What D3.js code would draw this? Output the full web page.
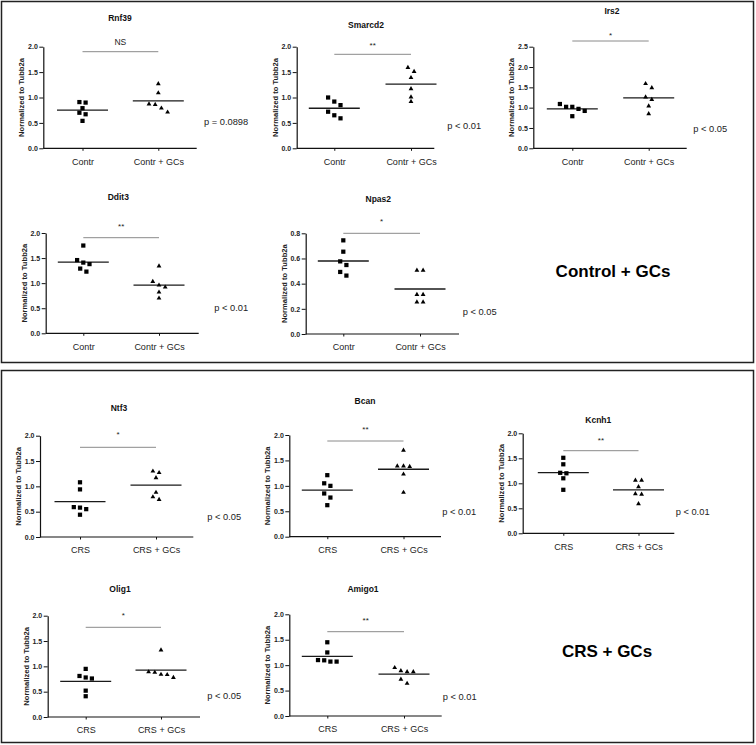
<!DOCTYPE html>
<html><head><meta charset="utf-8">
<script src="https://cdn.jsdelivr.net/npm/d3@7"></script>
<style>
body{margin:0;background:#fff;}
svg{display:block;font-family:"Liberation Sans",Arial,sans-serif;}
</style></head>
<body><svg id="chart" width="756" height="745"></svg>
<script>
// ---------- DATA ----------
const genes = ["Rnf39","Smarcd2","Irs2","Ddit3","Npas2","Ntf3","Bcan","Kcnh1","Olig1","Amigo1"];
const topGroups = ["Contr","Contr + GCs"];
const bottomGroups = ["CRS","CRS + GCs"];
const ctrlValues = [
  [0.90,0.91,0.79,0.67,0.70,0.54],
  [0.92,1.00,0.85,0.72,0.65,0.59],
  [1.09,1.02,1.02,0.97,0.92,0.79],
  [1.75,1.46,1.41,1.38,1.29,1.23],
  [0.744,0.654,0.577,0.548,0.493,0.464],
  [1.08,0.94,0.58,0.55,0.59,0.44],
  [1.21,1.05,1.00,0.85,0.77,0.62],
  [1.51,1.38,1.20,1.21,1.10,0.87],
  [0.95,0.78,0.76,0.81,0.52,0.41],
  [1.45,1.25,1.095,1.07,1.07,1.10]
];
const gcValues = [
  [1.27,1.09,0.87,0.86,0.79,0.71],
  [1.59,1.51,1.39,1.17,1.01,0.92],
  [1.59,1.49,1.26,1.20,1.04,0.85],
  [1.34,1.03,0.96,0.92,0.82,0.70],
  [0.506,0.506,0.313,0.313,0.254,0.254],
  [1.30,1.27,1.17,0.88,0.79,0.74],
  [1.70,1.39,1.38,1.39,1.23,0.87],
  [1.06,1.06,0.93,0.79,0.78,0.59],
  [1.32,0.89,0.84,0.78,0.835,0.88],
  [0.95,0.87,0.87,0.89,0.72,0.64]
];
const yMaxes = [2,2,2.5,2,0.8,2,2,2,2,2];
const yTickSteps = [0.5,0.5,0.5,0.5,0.2,0.5,0.5,0.5,0.5,0.5];
const sigLabels = ["NS","**","*","**","*","*","**","**","*","**"];
const pLabels = ["p = 0.0898","p < 0.01","p < 0.05","p < 0.01","p < 0.05","p < 0.05","p < 0.01","p < 0.01","p < 0.05","p < 0.01"];
const yAxisTitle = "Normalized to Tubb2a";
const sectionLabels = ["Control + GCs","CRS + GCs"];

// ---------- LAYOUT ----------
const layout = [
 {left:43.3,right:196.7,c1:82.5,c2:158.3,top:46.7,bottom:148.3,tx:120,ty:18,sigY:51.7,sigTy:42,px:204,py:122.3},
 {left:296.7,right:434.3,c1:334.3,c2:411,top:46.7,bottom:148.3,tx:366,ty:25,sigY:54.3,sigTy:45,px:447.3,py:125.7},
 {left:533.3,right:686.7,c1:572.3,c2:648.7,top:46.7,bottom:148.3,tx:612,ty:11,sigY:41,sigTy:35,px:693.3,py:129},
 {left:45.7,right:198.7,c1:83.3,c2:159,top:233,bottom:333.3,tx:118.3,ty:196.7,sigY:237.7,sigTy:226,px:214.3,py:308.3},
 {left:305.7,right:459,c1:343.3,c2:420,top:233.3,bottom:334,tx:378.3,ty:199,sigY:233.3,sigTy:221.7,px:462.7,py:311.7},
 {left:40,right:193.3,c1:80,c2:156,top:435.7,bottom:537,tx:119,ty:407.7,sigY:447.3,sigTy:434.3,px:207.3,py:516.7},
 {left:289.3,right:441,c1:327.3,c2:403.5,top:435,bottom:536.7,tx:365,ty:401,sigY:441,sigTy:429.3,px:442.3,py:511.7},
 {left:522.7,right:674.3,c1:563.3,c2:638.5,top:433.3,bottom:533.3,tx:598.3,ty:420,sigY:450.7,sigTy:440,px:675.7,py:511.7},
 {left:47.7,right:200,c1:85.7,c2:161,top:615.7,bottom:717,tx:120,ty:589,sigY:627.3,sigTy:615.3,px:207.3,py:696},
 {left:289.3,right:441.7,c1:327.3,c2:404,top:614.3,bottom:716,tx:363,ty:589,sigY:631.7,sigTy:620.7,px:442.7,py:697.3}
];
const sectionPos = [{x:613,y:271},{x:607,y:651}];

const svg = d3.select("#chart");
svg.append("rect").attr("width",756).attr("height",745).attr("fill","#fff");
svg.append("rect").attr("x",1.5).attr("y",1.5).attr("width",752).attr("height",361).attr("fill","none").attr("stroke","#222").attr("stroke-width",1.5);
svg.append("rect").attr("x",1.5).attr("y",370.5).attr("width",752).attr("height",372).attr("fill","none").attr("stroke","#222").attr("stroke-width",1.5);

const sqSym = d3.symbol().type(d3.symbolSquare).size(18);
const triSym = d3.symbol().type(d3.symbolTriangle).size(10);

function dodge(values, y, cx, step, thresh){
  const pts = values.map(v=>({v, py:y(v)})).sort((a,b)=>a.py-b.py);
  const rows=[]; let cur=null;
  pts.forEach(p=>{
    if(cur && p.py - cur[cur.length-1].py < thresh) cur.push(p);
    else { cur=[p]; rows.push(cur); }
  });
  rows.forEach(r=>r.forEach((p,i)=>{ p.px = cx + (i-(r.length-1)/2)*step; }));
  return pts;
}

genes.forEach((gene,i)=>{
  const L = layout[i];
  const groups = i<5 ? topGroups : bottomGroups;
  const g = svg.append("g");
  const y = d3.scaleLinear().domain([0,yMaxes[i]]).range([L.bottom,L.top]);
  const x = d3.scalePoint().domain(groups).range([L.c1,L.c2]);

  // y axis
  const ticks = d3.range(0, yMaxes[i]+1e-9, yTickSteps[i]);
  const ya = g.append("g").attr("transform",`translate(${L.left},0)`)
    .call(d3.axisLeft(y).tickValues(ticks).tickFormat(d3.format(".1f")).tickSize(4).tickSizeOuter(0).tickPadding(1.5));
  ya.select(".domain").attr("stroke","#111").attr("stroke-width",1.2);
  ya.selectAll(".tick line").attr("stroke","#111").attr("stroke-width",1);
  ya.selectAll("text").attr("font-size",7).attr("font-weight","bold").attr("fill","#222");

  // x axis
  g.append("line").attr("x1",L.left).attr("x2",L.right).attr("y1",L.bottom).attr("y2",L.bottom)
    .attr("stroke","#111").attr("stroke-width",1.2);
  const xa = g.append("g").attr("transform",`translate(0,${L.bottom})`)
    .call(d3.axisBottom(x).tickSize(2.5).tickPadding(7.5));
  xa.select(".domain").remove();
  xa.selectAll(".tick line").attr("stroke","#111");
  xa.selectAll("text").attr("font-size",9).attr("fill","#222");

  // y axis title
  g.append("text").attr("transform",`translate(${L.left-21.5},${(L.top+L.bottom)/2}) rotate(-90)`)
    .attr("text-anchor","middle").attr("dominant-baseline","central")
    .attr("font-size",7.6).attr("font-weight","bold").attr("fill","#222").text(yAxisTitle);

  // title
  g.append("text").attr("x",L.tx).attr("y",L.ty).attr("text-anchor","middle").attr("dominant-baseline","central")
    .attr("font-size",8.5).attr("font-weight","bold").attr("fill","#111").text(gene);

  // significance
  g.append("line").attr("x1",x(groups[0])).attr("x2",x(groups[1])).attr("y1",L.sigY).attr("y2",L.sigY)
    .attr("stroke","#8a8a8a").attr("stroke-width",1);
  g.append("text").attr("x",(x(groups[0])+x(groups[1]))/2).attr("y",L.sigTy).attr("text-anchor","middle")
    .attr("dominant-baseline","central").attr("font-size",sigLabels[i]==="NS"?8.5:8).attr("fill","#222").text(sigLabels[i]);

  // p value
  g.append("text").attr("x",L.px).attr("y",L.py).attr("dominant-baseline","central")
    .attr("font-size",9.3).attr("fill","#222").text(pLabels[i]);

  // points & means
  [ctrlValues[i], gcValues[i]].forEach((vals,k)=>{
    const cx = x(groups[k]);
    const m = d3.mean(vals);
    g.append("line").attr("x1",cx-25.5).attr("x2",cx+25.5).attr("y1",y(m)).attr("y2",y(m))
      .attr("stroke","#1a1a1a").attr("stroke-width",1.3);
    const pts = dodge(vals, y, cx, 6.2, 4.5);
    g.selectAll(null).data(pts).enter().append("path")
      .attr("d", k===0 ? sqSym : triSym)
      .attr("transform",d=>`translate(${d.px},${d.py})`)
      .attr("fill","#000");
  });
});

sectionLabels.forEach((t,i)=>{
  svg.append("text").attr("x",sectionPos[i].x).attr("y",sectionPos[i].y).attr("text-anchor","middle")
    .attr("dominant-baseline","central").attr("font-size",17).attr("font-weight","bold").attr("fill","#000").text(t);
});
</script></body></html>
